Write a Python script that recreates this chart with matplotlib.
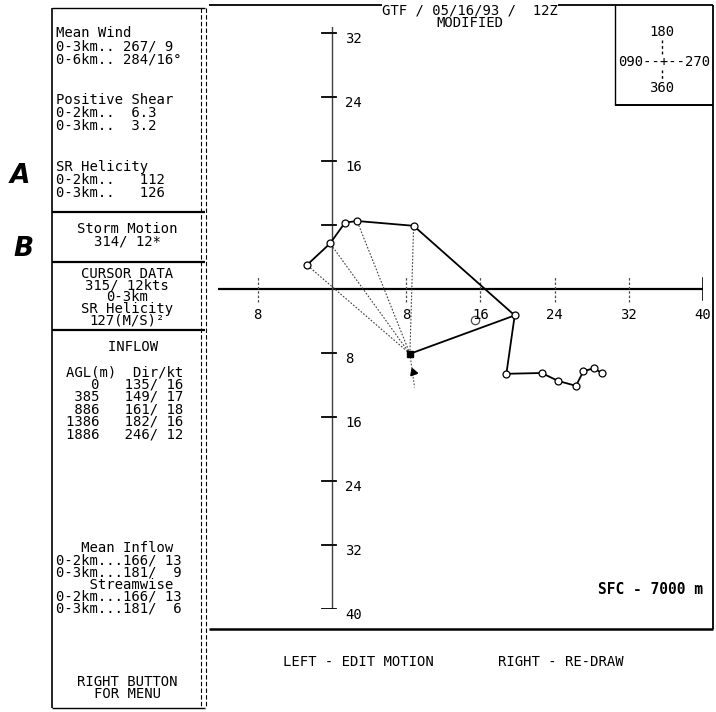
import matplotlib
matplotlib.use("Agg")
import matplotlib.pyplot as plt

# ---- hodograph data (kt) ----
hodo_u = [-2.7, -0.2, 1.4, 2.7, 8.8, 19.7, 18.8, 22.6, 24.4, 26.3, 27.1, 28.2, 29.1]
hodo_v = [3.0, 5.7, 8.3, 8.5, 7.9, -3.3, -10.6, -10.5, -11.5, -12.1, -10.3, -9.9, -10.5]
storm_u, storm_v = 8.4, -8.1
ray_idx = [0, 1, 3, 4]          # dotted storm-relative rays
solid_ray_idx = 5               # solid ray (top of 0-3 km layer)
cursor_mark = (15.4, -3.9)
x_ticks = [-8, 8, 16, 24, 32, 40]
y_ticks_up = [8, 16, 24, 32]
y_ticks_dn = [-8, -16, -24, -32, -40]

# ---- text panel contents ----
summary_groups = [
    ["Mean Wind", "0-3km.. 267/ 9", "0-6km.. 284/16\u00b0"],
    ["Positive Shear", "0-2km..  6.3", "0-3km..  3.2"],
    ["SR Helicity", "0-2km..   112", "0-3km..   126"],
]
storm_lines = ["Storm Motion", "314/ 12*"]
cursor_lines = ["CURSOR DATA", "315/ 12kts", "0-3km", "SR Helicity", "127(M/S)\u00b2"]
inflow_agl = ["0", "385", "886", "1386", "1886"]
inflow_dir = ["135/ 16", "149/ 17", "161/ 18", "182/ 16", "246/ 12"]
mean_inflow = ["0-2km...166/ 13", "0-3km...181/  9"]
streamwise = ["0-2km...166/ 13", "0-3km...181/  6"]

MONO = "DejaVu Sans Mono"
W, H = 716, 712

fig = plt.figure(figsize=(W / 100, H / 100), dpi=100)
fig.patch.set_facecolor("white")

# overlay in pixel coordinates for frames and panel text
ov = fig.add_axes([0, 0, 1, 1])
ov.set_xlim(0, W)
ov.set_ylim(H, 0)
ov.axis("off")

def line(x0, y0, x1, y1, **kw):
    kw.setdefault("color", "black")
    kw.setdefault("lw", 1.2)
    ov.plot([x0, x1], [y0, y1], solid_capstyle="butt", **kw)

def block(x, y_first, lines, step=11.5, ha="left", size=10, **kw):
    # multi-line block whose first line is centred at y_first
    yc = y_first + (len(lines) - 1) * step / 2
    ov.text(x, yc, "\n".join(lines), ha=ha, va="center", multialignment=ha,
            family=MONO, fontsize=size, linespacing=step / 13.9, **kw)

# left panel frame
line(52, 8, 52, 708, lw=1.2)
line(52, 8, 205, 8, lw=1.0)
line(52, 708, 205, 708, lw=1.0)
line(201, 8, 201, 708, lw=0.8, ls=(0, (4, 2)))
line(206, 8, 206, 708, lw=0.8, ls=(0, (4, 2)))
for yd in (212, 262, 330):
    line(52, yd, 205, yd, lw=1.6)

# main frame
line(209, 5, 713, 5, lw=1.3)
line(713, 5, 713, 629, lw=1.3)
line(209, 629, 713, 629, lw=1.8)
# direction inset
line(615, 5, 615, 105, lw=1.0)
line(615, 105, 713, 105, lw=1.4)

# panel text
for g, lines in enumerate(summary_groups):
    block(56, 33 + g * 67, lines, step=13)
block(127, 229, storm_lines, step=12, ha="center")
block(127, 275, cursor_lines, step=11, ha="center")

inflow_block = ["     INFLOW", "", "AGL(m)  Dir/kt"]
inflow_block += [f"{a:>4}   {d}" for a, d in zip(inflow_agl, inflow_dir)]
block(66, 349, inflow_block, step=11.9)

mean_block = ["   Mean Inflow"] + mean_inflow + ["    Streamwise"] + streamwise
block(56, 550, mean_block, step=11.4)
block(127, 682, ["RIGHT BUTTON", "FOR MENU"], step=12, ha="center")

# handwritten labels
ov.text(20, 176, "A", ha="center", va="center", fontsize=19, fontweight="bold",
        fontstyle="italic", family="DejaVu Sans")
ov.text(23, 249, "B", ha="center", va="center", fontsize=19, fontweight="bold",
        fontstyle="italic", family="DejaVu Sans")

# title and bottom prompts
ov.text(470, 4, "GTF / 05/16/93 /  12Z\nMODIFIED", ha="center", va="top",
        multialignment="center", family=MONO, fontsize=10, linespacing=0.8,
        bbox=dict(facecolor="white", edgecolor="none", pad=0.3))
block(662, 32, ["180"], ha="center")
block(664, 62, ["090--+--270"], ha="center")
block(662, 88, ["360"], ha="center")
line(662, 40, 662, 54, lw=1.0, ls=(0, (2, 2)))
line(662, 70, 662, 80, lw=1.0, ls=(0, (2, 2)))
block(358, 662, ["LEFT - EDIT MOTION"], ha="center")
block(561, 662, ["RIGHT - RE-DRAW"], ha="center")
block(703, 590, ["SFC - 7000 m"], ha="right", size=10.5, fontweight="bold")

# ---- hodograph axes ----
ox, oy = 332, 289           # origin in pixels
sx, sy = 74.2 / 8, 64 / 8   # pixels per kt
px0, px1, py0, py1 = 218, 703, 27, 609
hx = fig.add_axes([px0 / W, (H - py1) / H, (px1 - px0) / W, (py1 - py0) / H])
hx.set_xlim((px0 - ox) / sx, (px1 - ox) / sx)
hx.set_ylim((oy - py1) / sy, (oy - py0) / sy)
hx.axis("off")
hx.patch.set_alpha(0)

xl, yl = hx.get_xlim(), hx.get_ylim()
hx.plot(xl, [0, 0], color="black", lw=1.6)
hx.plot([0, 0], [-40, yl[1]], color="0.25", lw=1.0)

for t in x_ticks:
    if t == 40:
        hx.plot([t, t], [-1.4, 1.4], color="black", lw=1.2)
    else:
        hx.plot([t, t], [-1.6, 1.6], color="0.3", lw=0.9, ls=(0, (2, 1.5)))
    hx.text(t, -3.3, str(abs(t)), ha="center", va="center", family=MONO, fontsize=10)
for t in y_ticks_up + y_ticks_dn:
    hx.plot([-1.1, 0.4], [t, t], color="black", lw=1.3)
for t in y_ticks_up[1:] + y_ticks_dn:
    hx.text(1.4, t - 0.8, str(abs(t)), ha="left", va="center", family=MONO, fontsize=10)

# storm-relative rays
for i in ray_idx:
    hx.plot([storm_u, hodo_u[i]], [storm_v, hodo_v[i]], color="0.25", lw=0.8,
            ls=(0, (1.5, 1.5)))
hx.plot([storm_u, hodo_u[solid_ray_idx]], [storm_v, hodo_v[solid_ray_idx]],
        color="black", lw=1.3)
hx.plot([storm_u, storm_u + 0.5], [storm_v, storm_v - 4.2], color="0.3", lw=0.8,
        ls=(0, (1.5, 1.5)))

# hodograph trace
hx.plot(hodo_u, hodo_v, color="black", lw=1.3, marker="o", markersize=5,
        markerfacecolor="white", markeredgecolor="black", markeredgewidth=0.9)
hx.plot([cursor_mark[0]], [cursor_mark[1]], marker="o", markersize=6,
        markerfacecolor="none", markeredgecolor="0.3", markeredgewidth=0.9)
hx.plot([storm_u], [storm_v], marker="s", markersize=4, color="black")
hx.plot([storm_u + 0.3], [storm_v - 2.3], marker=(3, 0, 20), markersize=6,
        color="black")

fig.savefig("out.png", dpi=100, facecolor="white")
